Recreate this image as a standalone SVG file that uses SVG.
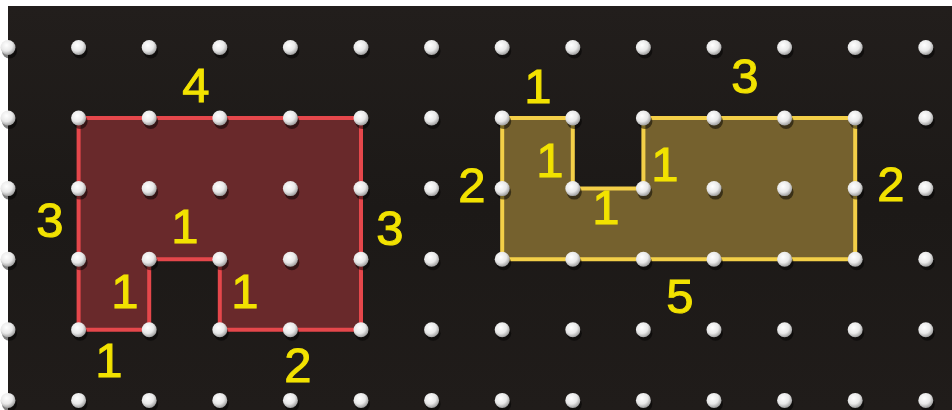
<svg xmlns="http://www.w3.org/2000/svg" xmlns:xlink="http://www.w3.org/1999/xlink" width="952" height="410" viewBox="0 0 952 410">
  <defs>
    <radialGradient id="pegGrad" cx="0.4" cy="0.35" r="0.65">
      <stop offset="0" stop-color="#ffffff"/>
      <stop offset="0.6" stop-color="#e8e8e8"/>
      <stop offset="1" stop-color="#a0a0a0"/>
    </radialGradient>
    <linearGradient id="bgGrad" x1="0" y1="0" x2="0" y2="1">
      <stop offset="0" stop-color="#221e1c"/>
      <stop offset="0.5" stop-color="#1c1917"/>
      <stop offset="1" stop-color="#201c1a"/>
    </linearGradient>
    <g id="peg">
      <circle cx="1.5" cy="3.5" r="7.5" fill="#000" opacity="0.5"/>
      <circle cx="0" cy="0" r="7.5" fill="url(#pegGrad)"/>
    </g>
  </defs>
  <style>
    .lbl { font-family: "Liberation Sans", Arial, sans-serif; font-size: 49px; fill: #f2e200; stroke: #f2e200; stroke-width: 1; text-anchor: middle; }
    .red { fill: #6e2a2c; fill-opacity: 0.95; stroke: #e5474b; stroke-width: 4; stroke-linejoin: miter; }
    .yel { fill: #7a652f; fill-opacity: 0.95; stroke: #f3cf48; stroke-width: 4; stroke-linejoin: miter; }
  </style>

  <rect x="0" y="0" width="952" height="410" fill="#ffffff"/>
  <rect x="8" y="6" width="944" height="404" fill="url(#bgGrad)"/>

  <g id="shapes">
    <g id="red-shape">
      <polygon class="red" points="78.6,118 361,118 361,329.8 219.8,329.8 219.8,259.2 149.2,259.2 149.2,329.8 78.6,329.8"/>
    </g>
    <g id="yellow-shape">
      <polygon class="yel" points="502.2,118 572.8,118 572.8,188.6 643.4,188.6 643.4,118 855.2,118 855.2,259.2 502.2,259.2"/>
    </g>
  </g>

  <g id="pegs">
    <g id="row0">
      <use href="#peg" x="8" y="47.5"/><use href="#peg" x="78.6" y="47.5"/><use href="#peg" x="149.2" y="47.5"/><use href="#peg" x="219.8" y="47.5"/><use href="#peg" x="290.4" y="47.5"/><use href="#peg" x="361" y="47.5"/><use href="#peg" x="431.6" y="47.5"/><use href="#peg" x="502.2" y="47.5"/><use href="#peg" x="572.8" y="47.5"/><use href="#peg" x="643.4" y="47.5"/><use href="#peg" x="714" y="47.5"/><use href="#peg" x="784.6" y="47.5"/><use href="#peg" x="855.2" y="47.5"/><use href="#peg" x="925.8" y="47.5"/>
    </g>
    <g id="row1">
      <use href="#peg" x="8" y="118"/><use href="#peg" x="78.6" y="118"/><use href="#peg" x="149.2" y="118"/><use href="#peg" x="219.8" y="118"/><use href="#peg" x="290.4" y="118"/><use href="#peg" x="361" y="118"/><use href="#peg" x="431.6" y="118"/><use href="#peg" x="502.2" y="118"/><use href="#peg" x="572.8" y="118"/><use href="#peg" x="643.4" y="118"/><use href="#peg" x="714" y="118"/><use href="#peg" x="784.6" y="118"/><use href="#peg" x="855.2" y="118"/><use href="#peg" x="925.8" y="118"/>
    </g>
    <g id="row2">
      <use href="#peg" x="8" y="188.6"/><use href="#peg" x="78.6" y="188.6"/><use href="#peg" x="149.2" y="188.6"/><use href="#peg" x="219.8" y="188.6"/><use href="#peg" x="290.4" y="188.6"/><use href="#peg" x="361" y="188.6"/><use href="#peg" x="431.6" y="188.6"/><use href="#peg" x="502.2" y="188.6"/><use href="#peg" x="572.8" y="188.6"/><use href="#peg" x="643.4" y="188.6"/><use href="#peg" x="714" y="188.6"/><use href="#peg" x="784.6" y="188.6"/><use href="#peg" x="855.2" y="188.6"/><use href="#peg" x="925.8" y="188.6"/>
    </g>
    <g id="row3">
      <use href="#peg" x="8" y="259.2"/><use href="#peg" x="78.6" y="259.2"/><use href="#peg" x="149.2" y="259.2"/><use href="#peg" x="219.8" y="259.2"/><use href="#peg" x="290.4" y="259.2"/><use href="#peg" x="361" y="259.2"/><use href="#peg" x="431.6" y="259.2"/><use href="#peg" x="502.2" y="259.2"/><use href="#peg" x="572.8" y="259.2"/><use href="#peg" x="643.4" y="259.2"/><use href="#peg" x="714" y="259.2"/><use href="#peg" x="784.6" y="259.2"/><use href="#peg" x="855.2" y="259.2"/><use href="#peg" x="925.8" y="259.2"/>
    </g>
    <g id="row4">
      <use href="#peg" x="8" y="329.8"/><use href="#peg" x="78.6" y="329.8"/><use href="#peg" x="149.2" y="329.8"/><use href="#peg" x="219.8" y="329.8"/><use href="#peg" x="290.4" y="329.8"/><use href="#peg" x="361" y="329.8"/><use href="#peg" x="431.6" y="329.8"/><use href="#peg" x="502.2" y="329.8"/><use href="#peg" x="572.8" y="329.8"/><use href="#peg" x="643.4" y="329.8"/><use href="#peg" x="714" y="329.8"/><use href="#peg" x="784.6" y="329.8"/><use href="#peg" x="855.2" y="329.8"/><use href="#peg" x="925.8" y="329.8"/>
    </g>
    <g id="row5">
      <use href="#peg" x="8" y="400.4"/><use href="#peg" x="78.6" y="400.4"/><use href="#peg" x="149.2" y="400.4"/><use href="#peg" x="219.8" y="400.4"/><use href="#peg" x="290.4" y="400.4"/><use href="#peg" x="361" y="400.4"/><use href="#peg" x="431.6" y="400.4"/><use href="#peg" x="502.2" y="400.4"/><use href="#peg" x="572.8" y="400.4"/><use href="#peg" x="643.4" y="400.4"/><use href="#peg" x="714" y="400.4"/><use href="#peg" x="784.6" y="400.4"/><use href="#peg" x="855.2" y="400.4"/><use href="#peg" x="925.8" y="400.4"/>
    </g>
  </g>

  <g id="labels-red">
    <text class="lbl" x="196" y="102">4</text>
    <text class="lbl" x="50" y="237">3</text>
    <text class="lbl" x="185" y="243">1</text>
    <text class="lbl" x="390" y="245">3</text>
    <text class="lbl" x="125" y="308">1</text>
    <text class="lbl" x="245" y="308">1</text>
    <text class="lbl" x="109" y="377">1</text>
    <text class="lbl" x="298" y="382">2</text>
  </g>
  <g id="labels-yellow">
    <text class="lbl" x="538" y="103">1</text>
    <text class="lbl" x="745" y="93">3</text>
    <text class="lbl" x="472" y="202">2</text>
    <text class="lbl" x="550" y="177">1</text>
    <text class="lbl" x="665" y="181">1</text>
    <text class="lbl" x="606" y="224">1</text>
    <text class="lbl" x="891" y="201">2</text>
    <text class="lbl" x="680" y="313">5</text>
  </g>
</svg>
